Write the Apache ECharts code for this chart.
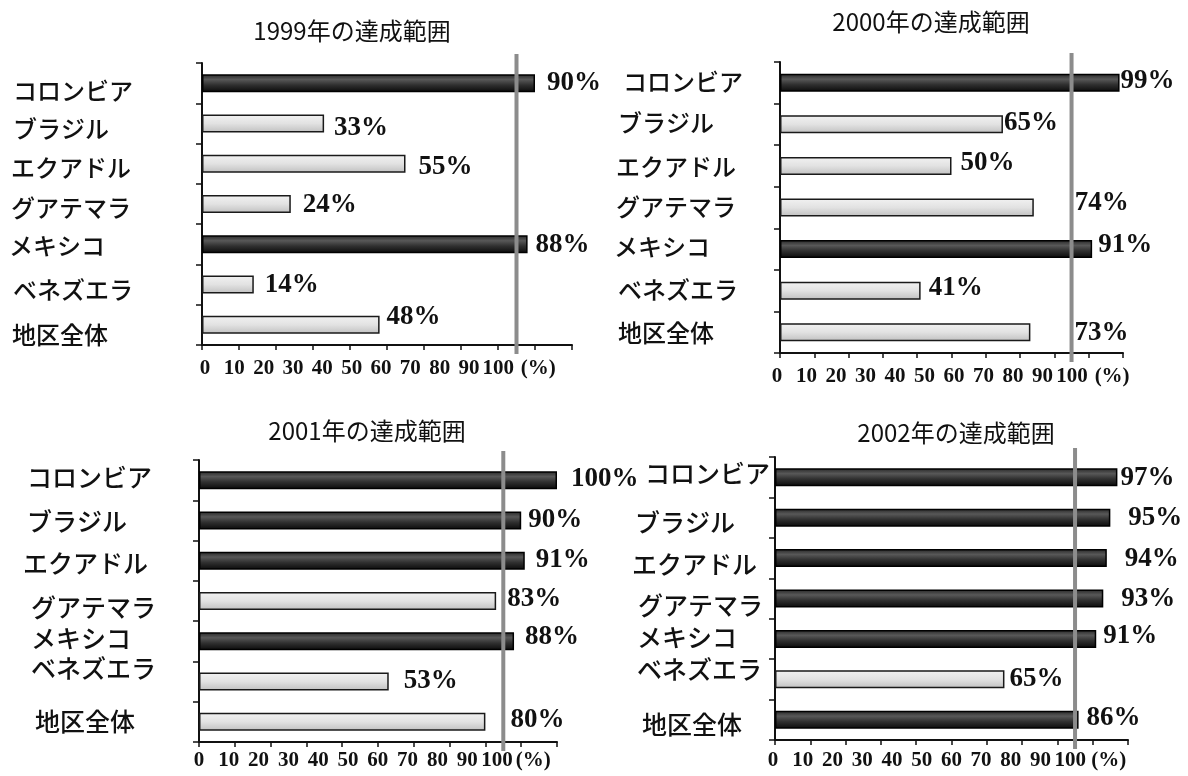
<!DOCTYPE html>
<html>
<head>
<meta charset="utf-8">
<script src="https://cdn.jsdelivr.net/npm/echarts@6/dist/echarts.min.js"></script>
<style>
  html, body { margin: 0; background: #fff; }
  #chart { width: 1188px; height: 776px; }
</style>
</head>
<body>
<div id="chart"></div>
<script>
// ── Data ───────────────────────────────────────────────
const categories   = ['コロンビア', 'ブラジル', 'エクアドル', 'グアテマラ', 'メキシコ', 'ベネズエラ', '地区全体'];
const titles       = ['1999年の達成範囲', '2000年の達成範囲', '2001年の達成範囲', '2002年の達成範囲'];
const coverage1999 = [90, 33, 55, 24, 88, 14, 48];
const coverage2000 = [99, 65, 50, 74, 91, 41, 73];
const coverage2001 = [100, 90, 91, 83, 88, 53, 80];
const coverage2002 = [97, 95, 94, 93, 91, 65, 86];
const tickValues   = [0, 10, 20, 30, 40, 50, 60, 70, 80, 90, 100];
const unitLabel    = '(%)';
const TARGET       = 85;   // grey reference line; bars at or above it are dark

// ── Layout (pixels) ────────────────────────────────────
// grid box, title centre, category label base + nudges, tick-label row, value-label nudges
const PANELS = [
  { values: coverage1999, left: 202, top: 63, width: 370, height: 282,
    titleX: 347, titleY: 26, catFont: 24, catMargin: 193,
    catNudge: [[4, 8], [4, 5], [2, 4], [2, 4], [0, 2], [4, 5], [3, 10]],
    tickX0: 205, tickStep: 2.933, tickMargin: 13, unitAt: 113.6,
    valNudge: [[5, 0], [3, 5], [6, 3], [5, 1], [1, 1], [4, 0], [0, -8]] },
  { values: coverage2000, left: 780, top: 62, width: 343, height: 291,
    titleX: 926, titleY: 17, catFont: 24, catMargin: 166,
    catNudge: [[9, -1], [4, -1], [2, 1], [2, -1], [0, -2], [4, -1], [4, 1]],
    tickX0: 777, tickStep: 2.95, tickMargin: 13, unitAt: 113.6,
    valNudge: [[-6, -2], [-6, -1], [2, -3], [34, -4], [-1, -4], [1, -3], [37, 1]] },
  { values: coverage2001, left: 199, top: 460, width: 358, height: 282,
    titleX: 362, titleY: 426, catFont: 25, catMargin: 176,
    catNudge: [[4, -3], [4, 1], [0, 3], [8, 6], [8, -3], [8, -13], [12, 0]],
    tickX0: 199, tickStep: 2.98, tickMargin: 8, unitAt: 112.2,
    valNudge: [[7, -1], [0, 0], [4, -1], [4, -2], [4, -4], [8, -1], [18, -2]] },
  { values: coverage2002, left: 775, top: 457, width: 353, height: 283,
    titleX: 951, titleY: 428, catFont: 25, catMargin: 143,
    catNudge: [[13, -4], [3, 5], [0, 6], [6, 7], [5, -1], [5, -10], [10, 5]],
    tickX0: 773, tickStep: 2.973, tickMargin: 10, unitAt: 112.9,
    valNudge: [[-4, 1], [11, 0], [11, 1], [11, 1], [0, -3], [-2, 0], [1, -2]] },
];

const LINE_ABOVE = 9;   // reference line overshoots the plot
const LINE_BELOW = 9;

// ── Styles ─────────────────────────────────────────────
const INK       = '#111';
const JP_FONT   = "'Noto Sans CJK JP', 'Noto Sans', sans-serif";
const NUM_FONT  = "'Liberation Serif', 'DejaVu Serif', serif";

const darkFill = { type: 'linear', x: 0, y: 0, x2: 0, y2: 1, colorStops: [
  { offset: 0, color: '#262626' }, { offset: 0.3, color: '#585858' },
  { offset: 0.6, color: '#303030' }, { offset: 1, color: '#0a0a0a' }] };
const lightFill = { type: 'linear', x: 0, y: 0, x2: 0, y2: 1, colorStops: [
  { offset: 0, color: '#f2f2f2' }, { offset: 0.5, color: '#e2e2e2' },
  { offset: 1, color: '#c0c0c0' }] };

// ── Build option ───────────────────────────────────────
const grid = [], xAxis = [], yAxis = [], series = [], title = [];

PANELS.forEach((p, i) => {
  const g = i * 3;
  const axisY = p.top + p.height;

  title.push({
    text: titles[i], left: p.titleX, top: p.titleY,
    textAlign: 'center', textVerticalAlign: 'middle',
    textStyle: { fontFamily: JP_FONT, fontSize: 24, fontWeight: 'normal', color: INK },
  });

  // main plot
  grid.push({ left: p.left, top: p.top, width: p.width, height: p.height, outerBoundsMode: 'none' });
  // tick-label row (labels do not sit under the ticks in the original)
  grid.push({ left: p.tickX0, top: axisY - 10, width: p.tickStep * 120, height: 10, outerBoundsMode: 'none' });
  // reference line overlay
  grid.push({ left: p.left, top: p.top - LINE_ABOVE, width: p.width,
              height: p.height + LINE_ABOVE + LINE_BELOW, outerBoundsMode: 'none' });

  xAxis.push({
    gridIndex: g, type: 'value', min: 0, max: 100, interval: 10,
    axisLine: { show: true, lineStyle: { color: INK, width: 2 } },
    axisTick: { show: true, length: 5, lineStyle: { color: INK, width: 1.5 } },
    axisLabel: { show: false }, splitLine: { show: false },
  });
  xAxis.push({
    gridIndex: g + 1, type: 'value', min: 0, max: 120,
    axisLine: { show: false }, axisTick: { show: false }, splitLine: { show: false },
    axisLabel: {
      customValues: [...tickValues, p.unitAt],
      formatter: v => (v === p.unitAt ? unitLabel : String(v)),
      margin: p.tickMargin, fontFamily: NUM_FONT, fontWeight: 'bold', fontSize: 21, color: INK,
    },
  });
  xAxis.push({ gridIndex: g + 2, type: 'value', min: 0, max: 100, show: false });

  const rich = {};
  p.catNudge.forEach(([dx, dy], k) => {
    rich['c' + k] = {
      fontFamily: JP_FONT, fontSize: p.catFont, fontWeight: 500, color: INK,
      padding: [Math.max(dy, 0) * 2, 0, Math.max(-dy, 0) * 2, dx],
    };
  });

  yAxis.push({
    gridIndex: g, type: 'category', data: categories, inverse: true,
    axisLine: { show: true, lineStyle: { color: INK, width: 2 } },
    axisTick: { show: true, length: 6, lineStyle: { color: INK, width: 1.5 } },
    axisLabel: {
      align: 'left', margin: p.catMargin, interval: 0,
      formatter: (val, k) => `{c${k}|${val}}`, rich,
    },
  });
  yAxis.push({ gridIndex: g + 1, type: 'value', min: 0, max: 1, show: false });
  yAxis.push({ gridIndex: g + 2, type: 'value', min: 0, max: 1, show: false });

  series.push({
    type: 'bar', xAxisIndex: g, yAxisIndex: g, barWidth: 18, z: 2,
    data: p.values.map((v, k) => ({
      value: v,
      itemStyle: v >= TARGET
        ? { color: darkFill, borderColor: '#000', borderWidth: 1.5 }
        : { color: lightFill, borderColor: '#1a1a1a', borderWidth: 1.5 },
      label: { offset: p.valNudge[k] },
    })),
    label: {
      show: true, position: 'right', distance: 7,
      formatter: '{c}%', fontFamily: NUM_FONT, fontWeight: 'bold', fontSize: 27, color: INK,
    },
    emphasis: { disabled: true },
    animation: false,
  });

  series.push({
    type: 'line', xAxisIndex: g + 2, yAxisIndex: g + 2, z: 5,
    data: [[TARGET, 0], [TARGET, 1]],
    symbol: 'none', lineStyle: { color: '#8c8c8c', width: 4 },
    emphasis: { disabled: true }, animation: false,
  });
});

const chart = echarts.init(document.getElementById('chart'), null, { renderer: 'canvas' });
chart.setOption({
  backgroundColor: '#fff',
  animation: false,
  title, grid, xAxis, yAxis, series,
});
</script>
</body>
</html>
